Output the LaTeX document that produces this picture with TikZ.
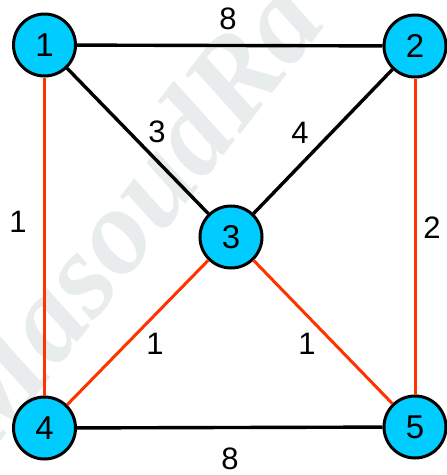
\documentclass[tikz,border=0pt]{standalone}
\usepackage{fontspec}
\setmainfont{Liberation Sans}
\newfontfamily\wmfont{Liberation Serif}
\definecolor{nodefill}{HTML}{00CCFF}
\definecolor{redge}{HTML}{FF3300}
\definecolor{wm}{HTML}{E8ECEC}
\begin{document}
\begin{tikzpicture}[x=1pt,y=-1pt,
  vtx/.style={circle,draw=black,line width=3pt,fill=nodefill,minimum size=62pt,inner sep=0pt,font=\fontsize{33}{33}\selectfont},
  blk/.style={draw=black,line width=3.4pt},
  red/.style={draw=redge,line width=3pt},
  wlab/.style={font=\fontsize{31}{31}\selectfont,inner sep=0pt}]
\useasboundingbox (0,0) rectangle (447,475);
\begin{scope}
\clip (0,0) rectangle (447,475);
\node[wm, rotate=52, anchor=base west, font=\wmfont\bfseries\itshape\fontsize{122}{122}\selectfont, inner sep=0pt] (wmk) at (-10,455) {MasoudRa};
\end{scope}
\node[vtx] (n1) at (44.5,45) {1};
\node[vtx] (n2) at (415,46) {2};
\node[vtx] (n3) at (231,237) {3};
\node[vtx] (n4) at (44.5,428) {4};
\node[vtx] (n5) at (415,427) {5};
\path[blk] (n1) -- (n2);
\path[blk] (n1) -- (n3);
\path[blk] (n2) -- (n3);
\path[blk] (n4) -- (n5);
\path[red] (n1) -- (n4);
\path[red] (n2) -- (n5);
\path[red] (n3) -- (n4);
\path[red] (n3) -- (n5);
\node[wlab] (l12) at (228,19) {8};
\node[wlab] (l13) at (157,132) {3};
\node[wlab] (l23) at (300,133) {4};
\node[wlab] (l14) at (18,222) {1};
\node[wlab] (l25) at (432,228) {2};
\node[wlab] (l34) at (155,344) {1};
\node[wlab] (l35) at (307,344) {1};
\node[wlab] (l45) at (230,459) {8};
\end{tikzpicture}
\end{document}
